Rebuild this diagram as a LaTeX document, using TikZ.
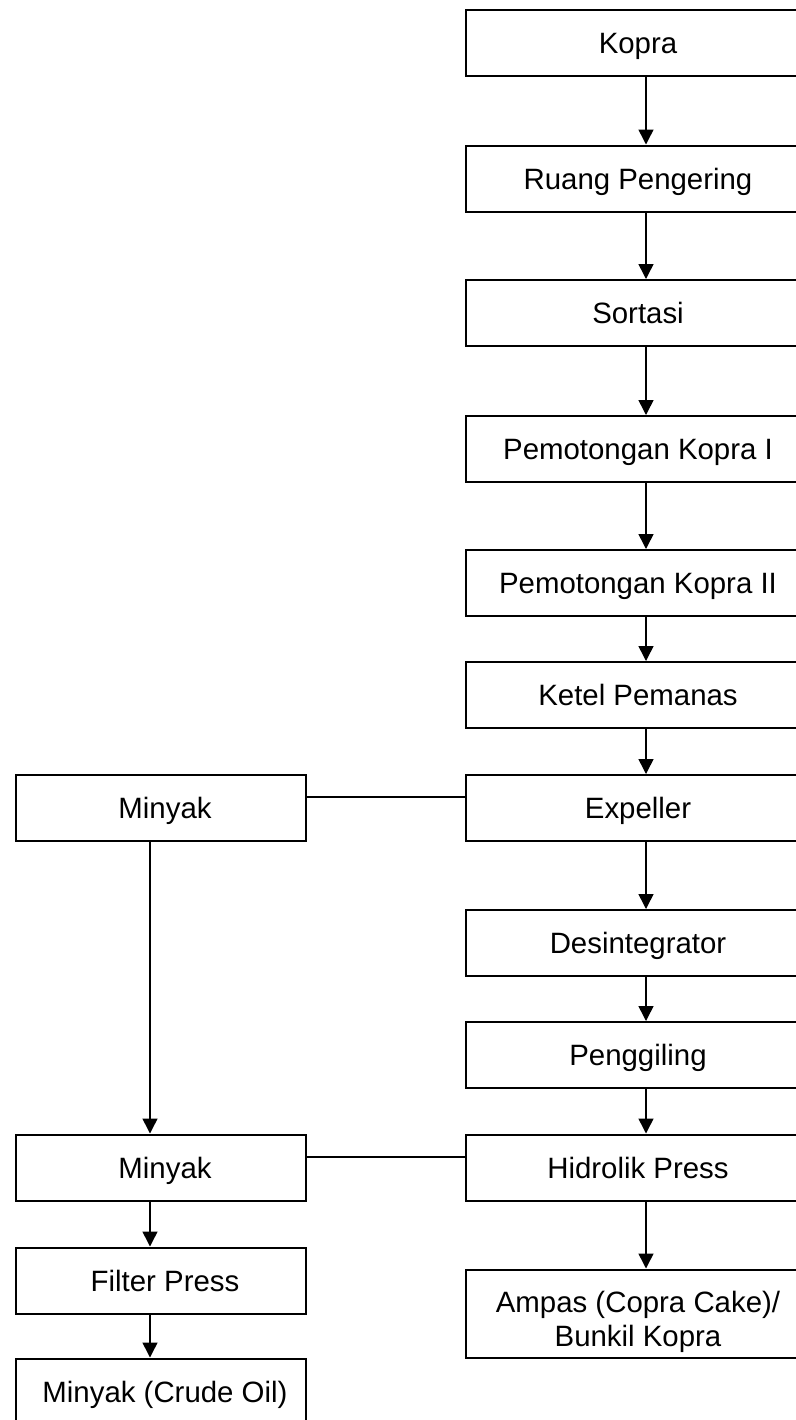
\documentclass[tikz,border=0pt]{standalone}
\usepackage{fontspec}
\setmainfont{Liberation Sans}
\usetikzlibrary{arrows.meta}
\begin{document}
\begin{tikzpicture}[x=0.5pt,y=-0.5pt,
 box/.style={draw, line width=1pt, minimum height=33pt, inner sep=0pt, align=center, font=\fontsize{14.7}{17}\selectfont},
 one/.style={text height=10.5pt, text depth=0pt},
 rbox/.style={box, one, minimum width=172pt},
 lbox/.style={box, one, minimum width=145pt},
 tallbox/.style={box, minimum width=172pt, minimum height=44pt},
 arr/.style={line width=0.75pt, -{Triangle[width=7.5pt,length=7.5pt]}},
 conn/.style={line width=0.75pt}]
\useasboundingbox (0,0) rectangle (796,1420);
\clip (0,0) rectangle (796,1420);
% right column
\node[rbox] (kopra) at (638,42.5) {Kopra};
\node[rbox] (ruang) at (638,178.5) {Ruang Pengering};
\node[rbox] (sortasi) at (638,313) {Sortasi};
\node[rbox] (pem1) at (638,449) {Pemotongan Kopra I};
\node[rbox] (pem2) at (638,583) {Pemotongan Kopra II};
\node[rbox] (ketel) at (638,695) {Ketel Pemanas};
\node[rbox] (exp) at (638,808) {Expeller};
\node[rbox] (desint) at (638,943) {Desintegrator};
\node[rbox] (giling) at (638,1055) {Penggiling};
\node[rbox] (hidro) at (638,1167.5) {Hidrolik Press};
\node[tallbox] (ampas) at (638,1313.5) {\rule{0pt}{18.6pt}Ampas (Copra Cake)/\\Bunkil Kopra};
% left column
\node[lbox] (m1) at (161,807.5) {\hspace*{4pt}Minyak};
\node[lbox] (m2) at (161,1167.5) {\hspace*{4pt}Minyak};
\node[lbox] (filter) at (161,1280.5) {\hspace*{4pt}Filter Press};
\node[lbox] (crude) at (161,1391.5) {\hspace*{4pt}Minyak (Crude Oil)};
% axes
\coordinate (ax) at (646,0);
\coordinate (lx) at (150,0);
\coordinate (h1) at (0,797);
\coordinate (h2) at (0,1157);
% arrows right
\draw[arr] (kopra.south -| ax) -- (ruang.north -| ax);
\draw[arr] (ruang.south -| ax) -- (sortasi.north -| ax);
\draw[arr] (sortasi.south -| ax) -- (pem1.north -| ax);
\draw[arr] (pem1.south -| ax) -- (pem2.north -| ax);
\draw[arr] (pem2.south -| ax) -- (ketel.north -| ax);
\draw[arr] (ketel.south -| ax) -- (exp.north -| ax);
\draw[arr] (exp.south -| ax) -- (desint.north -| ax);
\draw[arr] (desint.south -| ax) -- (giling.north -| ax);
\draw[arr] (giling.south -| ax) -- (hidro.north -| ax);
\draw[arr] (hidro.south -| ax) -- (ampas.north -| ax);
% horizontal links
\draw[conn] (exp.west |- h1) -- (m1.east |- h1);
\draw[conn] (hidro.west |- h2) -- (m2.east |- h2);
% arrows left
\draw[arr] (m1.south -| lx) -- (m2.north -| lx);
\draw[arr] (m2.south -| lx) -- (filter.north -| lx);
\draw[arr] (filter.south -| lx) -- (crude.north -| lx);
\end{tikzpicture}
\end{document}
